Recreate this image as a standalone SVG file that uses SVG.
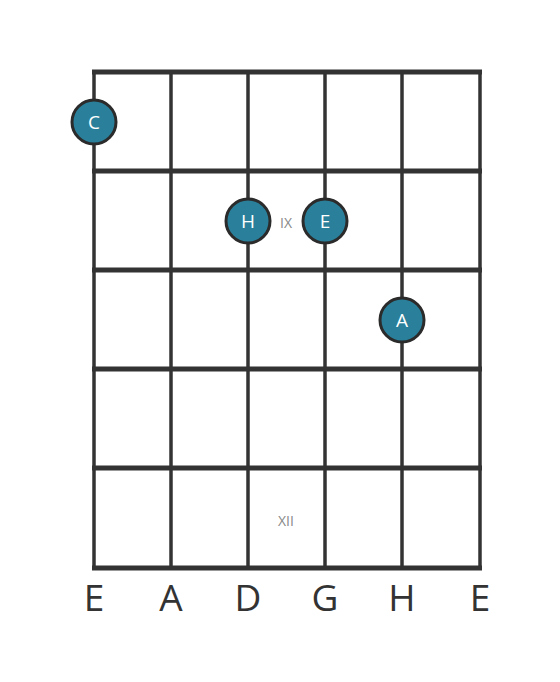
<svg xmlns="http://www.w3.org/2000/svg" width="560" height="682" viewBox="0 0 560 682">
<style>
.fret{stroke:#333;stroke-width:5}
.str{stroke:#333;stroke-width:3.5}
.note circle{fill:#2a7f9a;stroke:#2b2b2b;stroke-width:3}
.note text{fill:#fff;font-family:"Open Sans","DejaVu Sans",sans-serif;font-size:19px;text-anchor:middle;dominant-baseline:central}
.mark{fill:#888;font-family:"Open Sans","DejaVu Sans",sans-serif;font-size:14px;text-anchor:middle;dominant-baseline:central}
.lbl{fill:#333;font-family:"Open Sans","DejaVu Sans",sans-serif;font-size:37px;text-anchor:middle}
</style>
<rect width="560" height="682" fill="#fff"/>
<g id="board">
<line class="str" x1="94" y1="72" x2="94" y2="568"/>
<line class="str" x1="171" y1="72" x2="171" y2="568"/>
<line class="str" x1="248" y1="72" x2="248" y2="568"/>
<line class="str" x1="325" y1="72" x2="325" y2="568"/>
<line class="str" x1="402" y1="72" x2="402" y2="568"/>
<line class="str" x1="480" y1="72" x2="480" y2="568"/>
<line class="fret" x1="92" y1="72" x2="482" y2="72"/>
<line class="fret" x1="92" y1="171" x2="482" y2="171"/>
<line class="fret" x1="92" y1="270" x2="482" y2="270"/>
<line class="fret" x1="92" y1="369" x2="482" y2="369"/>
<line class="fret" x1="92" y1="468" x2="482" y2="468"/>
<line class="fret" x1="92" y1="568" x2="482" y2="568"/>
</g>
<text class="mark" x="286" y="222">IX</text>
<text class="mark" x="286" y="520">XII</text>
<g id="n-c" class="note"><circle cx="94" cy="122" r="22"/><text x="94" y="122">C</text></g>
<g id="n-h" class="note"><circle cx="248" cy="221" r="22"/><text x="248" y="221">H</text></g>
<g id="n-e" class="note"><circle cx="325" cy="221" r="22"/><text x="325" y="221">E</text></g>
<g id="n-a" class="note"><circle cx="402" cy="320" r="22"/><text x="402" y="320">A</text></g>
<g id="labels">
<text class="lbl" x="94" y="611">E</text>
<text class="lbl" x="171" y="611">A</text>
<text class="lbl" x="248" y="611">D</text>
<text class="lbl" x="325" y="611">G</text>
<text class="lbl" x="402" y="611">H</text>
<text class="lbl" x="480" y="611">E</text>
</g>
</svg>
